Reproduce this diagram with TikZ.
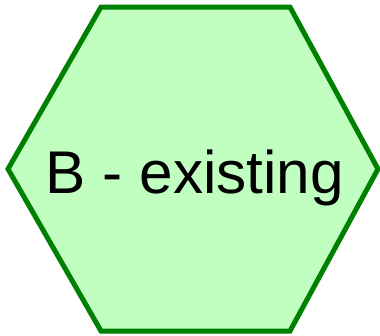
\documentclass[tikz,border=0pt]{standalone}
\usepackage{fontspec}
\setmainfont{Liberation Sans}
\begin{document}
\begin{tikzpicture}[x=1bp,y=-1bp,
  hexa/.style={draw=green!50!black,fill={rgb,255:red,192;green,255;blue,192},line width=5bp,line join=miter},
  lbl/.style={font=\fontsize{60.5}{72}\selectfont,anchor=base,inner sep=0pt}]
\useasboundingbox (0,0) rectangle (380,336);
\draw[hexa] (101,7) coordinate (v1) -- (290,7) coordinate (v2) -- (378,169) coordinate (v3)
  -- (290,331) coordinate (v4) -- (101,331) coordinate (v5) -- (8,169) coordinate (v6) -- cycle;
\node[lbl] (t) at (195,193) {B - existing};
\end{tikzpicture}
\end{document}
